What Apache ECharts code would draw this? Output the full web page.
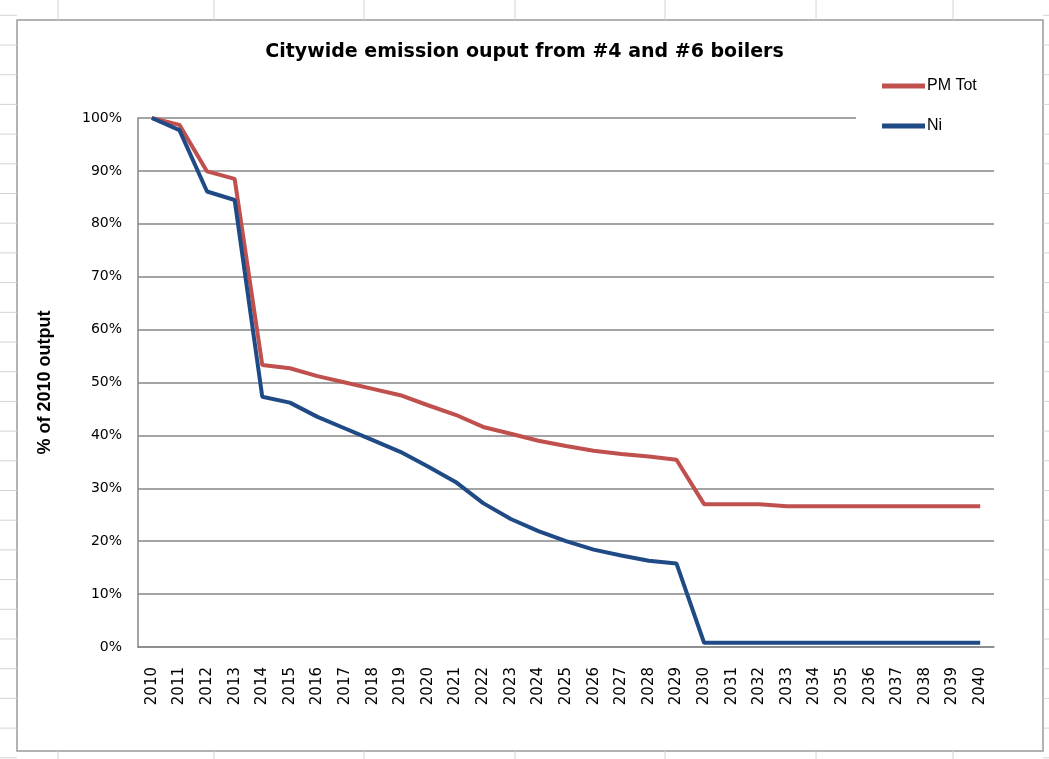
<!DOCTYPE html>
<html>
<head>
<meta charset="utf-8">
<script src="https://cdn.jsdelivr.net/npm/echarts@6/dist/echarts.min.js"></script>
<style>html,body{margin:0;padding:0;background:#fff}#c{width:1049px;height:759px}</style>
</head>
<body>
<div id="c"></div>
<script>
const years = ['2010','2011','2012','2013','2014','2015','2016','2017','2018','2019','2020','2021','2022','2023','2024','2025','2026','2027','2028','2029','2030','2031','2032','2033','2034','2035','2036','2037','2038','2039','2040'];
const pmTot = [100,98.7,89.9,88.5,53.3,52.7,51.2,50.0,48.8,47.6,45.7,43.9,41.6,40.3,39.0,38.0,37.1,36.5,36.0,35.4,27.0,27.0,27.0,26.6,26.6,26.6,26.6,26.6,26.6,26.6,26.6];
const ni = [100,97.7,86.1,84.5,47.3,46.2,43.5,41.3,39.1,36.9,34.1,31.2,27.2,24.2,21.9,20.0,18.4,17.3,16.3,15.8,0.8,0.8,0.8,0.8,0.8,0.8,0.8,0.8,0.8,0.8,0.8];
const yTicks = [0,10,20,30,40,50,60,70,80,90,100];

const chart = echarts.init(document.getElementById('c'));

// decorative spreadsheet cell lines outside the chart frame
const deco = [];
const colX = [58,214,364,515,665,816,953];
colX.forEach(x => {
  deco.push({type:'line', shape:{x1:x,y1:0,x2:x,y2:20}, style:{stroke:'#d4d4d4',lineWidth:1}, silent:true});
  deco.push({type:'line', shape:{x1:x,y1:751,x2:x,y2:759}, style:{stroke:'#d4d4d4',lineWidth:1}, silent:true});
});
for (let y = 15.3; y < 759; y += 29.7) {
  deco.push({type:'line', shape:{x1:0,y1:y,x2:17,y2:y}, style:{stroke:'#d4d4d4',lineWidth:1}, silent:true});
  deco.push({type:'line', shape:{x1:1043,y1:y,x2:1049,y2:y}, style:{stroke:'#d4d4d4',lineWidth:1}, silent:true});
}
deco.push({type:'rect', shape:{x:17,y:20,width:1026,height:731}, style:{fill:'none',stroke:'#9a9a9a',lineWidth:1.5}, silent:true, z:-1});

chart.setOption({
  animation:false,
  backgroundColor:'#fff',
  graphic: deco,
  title:{
    text:'Citywide emission ouput from #4 and #6 boilers',
    left:'center', top:38,
    textStyle:{fontFamily:'DejaVu Sans', fontWeight:'bold', fontSize:19, color:'#000'}
  },
  legend:{
    orient:'vertical',
    left:856, top:69,
    backgroundColor:'#fff',
    padding:[9,60,10,26],
    itemGap:24,
    icon:'rect',
    itemWidth:43, itemHeight:5,
    textStyle:{fontFamily:'Liberation Sans', fontSize:16, color:'#000', padding:[0,0,0,-3]},
    data:['PM Tot','Ni']
  },
  grid:{left:138, right:55, top:118, bottom:112, containLabel:false},
  xAxis:{
    type:'category',
    data:years,
    boundaryGap:true,
    axisLine:{show:true, lineStyle:{color:'#868686', width:1.5}},
    axisTick:{show:false},
    axisLabel:{rotate:90, margin:20, fontFamily:'DejaVu Sans', fontSize:15, color:'#000', interval:0},
    splitLine:{show:false}
  },
  yAxis:{
    type:'value',
    min:0, max:100, interval:10,
    name:'% of 2010 output',
    nameLocation:'middle',
    nameGap:84,
    nameRotate:90,
    nameTextStyle:{fontFamily:'Liberation Sans', fontWeight:'bold', fontSize:18, color:'#000'},
    axisLine:{show:true, lineStyle:{color:'#868686', width:1.5}},
    axisTick:{show:false},
    axisLabel:{margin:16, fontFamily:'DejaVu Sans', fontSize:14, color:'#000', formatter:v => v + '%'},
    splitLine:{show:true, lineStyle:{color:'#868686', width:1.5}}
  },
  series:[
    {name:'PM Tot', type:'line', data:pmTot, symbol:'none', lineStyle:{color:'#C0504D', width:4}, itemStyle:{color:'#C0504D'}, z:2},
    {name:'Ni', type:'line', data:ni, symbol:'none', lineStyle:{color:'#1F4A86', width:4}, itemStyle:{color:'#1F4A86'}, z:3}
  ]
});
</script>
</body>
</html>
